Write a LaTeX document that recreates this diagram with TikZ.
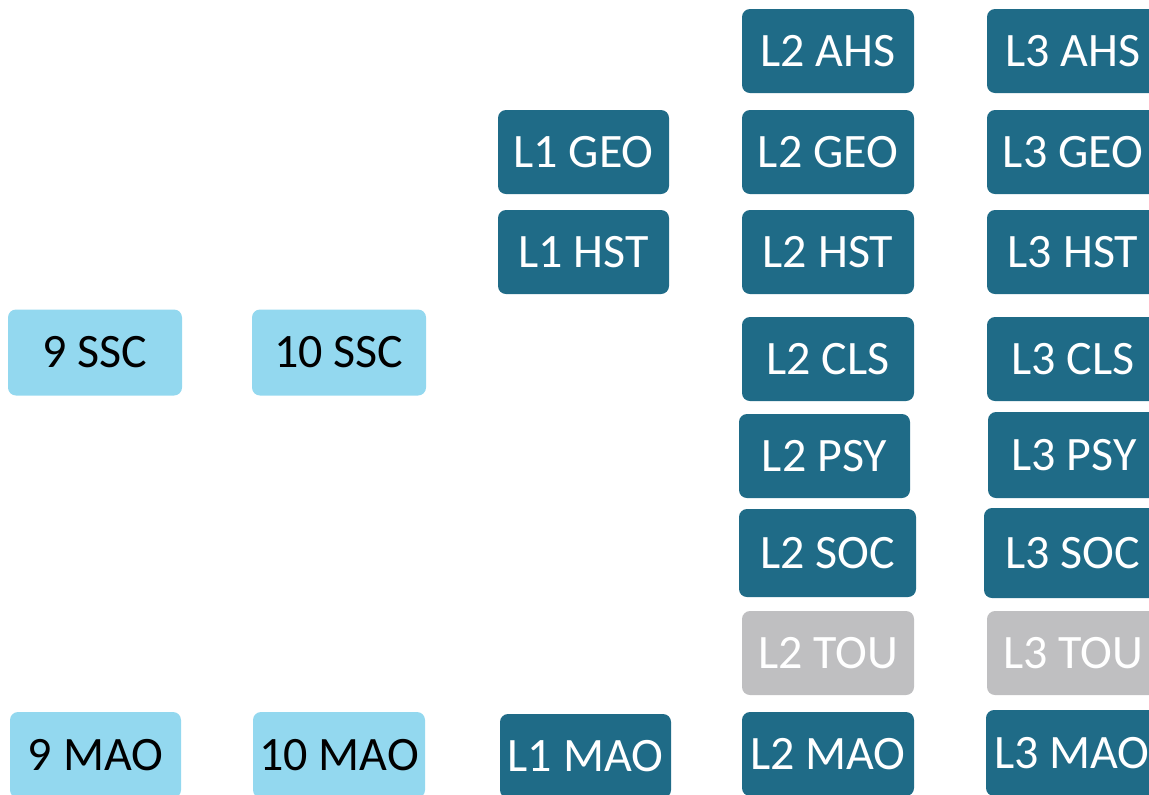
\documentclass[tikz,border=0pt]{standalone}
\usepackage{fontspec}
\setmainfont{Carlito}
\usepackage{xcolor}
\usepackage{tikz}
\definecolor{darkteal}{RGB}{31,107,135}
\definecolor{skyblue}{RGB}{147,216,239}
\definecolor{paleGray}{RGB}{191,191,193}

\begin{document}
\begin{tikzpicture}[
  x=0.5pt, y=-0.5pt,
  course/.style={rectangle, rounded corners=4pt, fill=darkteal, text=white,
                 minimum width=86pt, minimum height=42pt, inner sep=0pt,
                 font=\fontsize{24}{28}\selectfont},
  junior/.style={course, fill=skyblue, text=black, minimum width=87pt, minimum height=43pt},
  inactive/.style={course, fill=paleGray},
]
  \useasboundingbox (0,0) rectangle (1149,794);
  \clip (0,0) rectangle (1149,794);

  % Years 9 and 10
  \node[junior] (ssc9)  at (95,352.5)   {9 SSC};
  \node[junior] (ssc10) at (339,352.5)  {10 SSC};
  \node[junior, minimum width=85.5pt] (mao9)  at (95.5,755) {9 MAO};
  \node[junior, minimum width=86pt]   (mao10) at (339,755)  {10 MAO};

  % Level 1
  \node[course, minimum width=85.5pt] (geo1) at (583.5,152) {L1 GEO};
  \node[course, minimum width=85.5pt] (hst1) at (583.5,252) {L1 HST};
  \node[course, minimum width=85.5pt] (mao1) at (585.5,756) {L1 MAO};

  % Level 2
  \node[course] (ahs2) at (828,51)  {L2 AHS};
  \node[course] (geo2) at (828,152) {L2 GEO};
  \node[course] (hst2) at (828,252) {L2 HST};
  \node[course] (cls2) at (828,359) {L2 CLS};
  \node[course, minimum width=85.5pt] (psy2) at (824.5,456) {L2 PSY};
  \node[course, minimum width=88.5pt, minimum height=44pt] (soc2) at (827.5,553) {L2 SOC};
  \node[inactive] (tou2) at (828,653) {L2 TOU};
  \node[course] (mao2) at (828,754) {L2 MAO};

  % Level 3
  \node[course] (ahs3) at (1073,51)  {L3 AHS};
  \node[course] (geo3) at (1073,152) {L3 GEO};
  \node[course] (hst3) at (1073,252) {L3 HST};
  \node[course] (cls3) at (1073,359) {L3 CLS};
  \node[course, minimum height=43pt] (psy3) at (1074,455) {L3 PSY};
  \node[course, minimum width=88.5pt, minimum height=45pt] (soc3) at (1072.5,553) {L3 SOC};
  \node[inactive] (tou3) at (1073,653) {L3 TOU};
  \node[course, minimum height=43pt] (mao3) at (1072,753) {L3 MAO};

\end{tikzpicture}
\end{document}
